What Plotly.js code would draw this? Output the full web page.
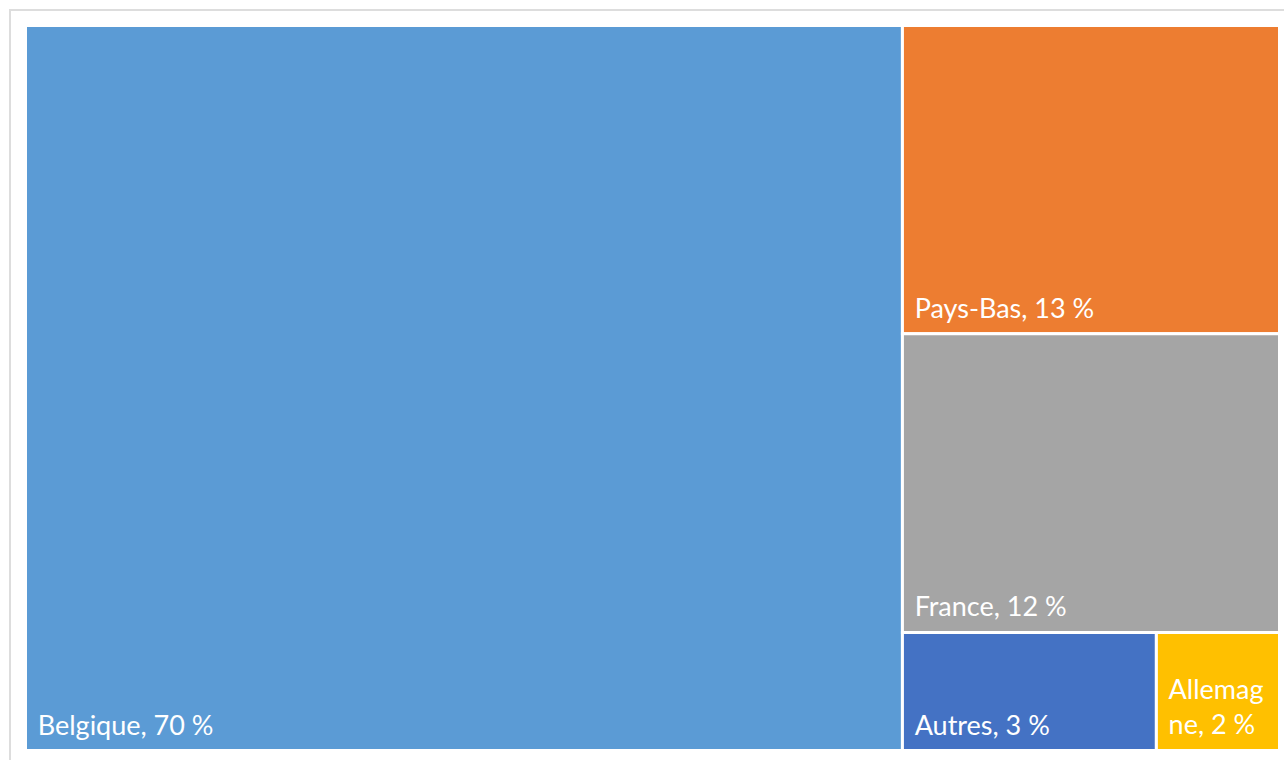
<!DOCTYPE html>
<html>
<head>
<meta charset="utf-8">
<script src="https://cdn.plot.ly/plotly-3.0.1.min.js"></script>
<style>
  html, body { margin: 0; padding: 0; background: #ffffff; overflow: hidden; }
  #frame { position: absolute; left: 9px; top: 9px; width: 1300px; height: 800px;
           border: 2px solid #dddddd; box-sizing: border-box; }
  #chart { position: absolute; left: 0; top: 0; width: 1284px; height: 760px; }
</style>
</head>
<body>
<div id="frame"></div>
<div id="chart"></div>
<script>
// Data (shares in %, estimated from tile areas; labels show rounded values)
const countries = ["Belgique", "Pays-Bas", "France", "Autres", "Allemagne"];
const shares = [70.0, 12.8, 12.4, 3.3, 1.6];
const shownPct = [70, 13, 12, 3, 2];
const tileLabels = ["Belgique", "Pays-Bas", "France", "Autres", "Allemag<br>ne"];
const colors = ["#5B9BD5", "#ED7D31", "#A5A5A5", "#4472C4", "#FFC000"];

const W = 1284, H = 760;
const edgeL = 27 - 1.5, edgeR = 1278 + 1.5, edgeT = 27 - 1.5, edgeB = 749 + 1.5;

// inset spacers (text styling only)
const padLeft = "<span style='font-size:36px'>\u00a0</span>";
const padBottom = "<span style='font-size:60px'>\u00a0</span>";
const texts = tileLabels.map((l, i) => padLeft + l.replace("<br>", "<br>" + padLeft) + ", " + shownPct[i] + " %" + padBottom);

const trace = {
  type: "treemap",
  labels: countries,
  parents: countries.map(() => ""),
  values: shares,
  text: texts,
  texttemplate: "%{text}",
  textposition: "bottom left",
  textfont: { family: "Lato, 'Open Sans', sans-serif", size: 27, color: "#ffffff" },
  marker: { colors: colors, line: { width: 3, color: "#ffffff" }, pad: { t: 0, l: 0, r: 0, b: 0 } },
  tiling: { packing: "squarify", pad: 0 },
  pathbar: { visible: false },
  sort: true,
  hoverinfo: "label+value",
  domain: { x: [edgeL / W, edgeR / W], y: [1 - edgeB / H, 1 - edgeT / H] }
};

const layout = {
  width: W, height: H,
  margin: { l: 0, r: 0, t: 0, b: 0 },
  paper_bgcolor: "rgba(0,0,0,0)",
  showlegend: false,
  font: { family: "Lato, 'Open Sans', sans-serif" }
};

Plotly.newPlot("chart", [trace], layout, { displayModeBar: false, staticPlot: true });
</script>
</body>
</html>
